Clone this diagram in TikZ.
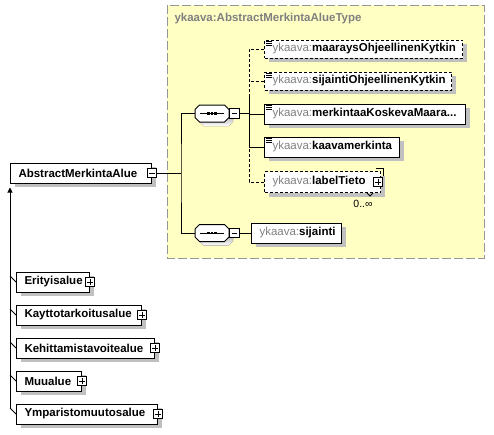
\documentclass[tikz,border=0pt]{standalone}
\usepackage{fontspec}
\setmainfont{Liberation Sans}
\usepackage{tikz}
\usetikzlibrary{calc}
\usetikzlibrary{arrows.meta,shadows,positioning}
\definecolor{prefix}{RGB}{128,128,128}
\definecolor{typebg}{RGB}{255,255,196}
\definecolor{typeline}{RGB}{150,150,150}
\definecolor{shade}{RGB}{192,192,192}
\hyphenpenalty=10000
\exhyphenpenalty=10000
\newcommand{\ykprefix}{\textcolor{prefix}{\mdseries ykaava:}}

\begin{document}
\begin{tikzpicture}[x=1pt,y=-1pt,line width=1pt,
    elfont/.style={font=\fontsize{11.5}{13}\selectfont\bfseries},
    elbox/.style={draw,fill=white,anchor=west,minimum height=20pt,inner xsep=8pt,inner ysep=0pt,
      text width=#1,align=left,elfont,
      drop shadow={shadow xshift=4pt,shadow yshift=-4pt,fill=shade,opacity=1}},
    optbox/.style={elbox=#1,dash pattern=on 3pt off 2pt},
    optline/.style={dash pattern=on 3pt off 2pt},
    minusbox/.style={draw,fill=white,minimum size=9.5pt,inner sep=0pt,
      path picture={\draw ([xshift=2pt]path picture bounding box.west) -- ([xshift=-2pt]path picture bounding box.east);}},
    plusbox/.style={draw,fill=white,minimum size=9.5pt,inner sep=0pt,
      path picture={\draw ([xshift=2pt]path picture bounding box.west) -- ([xshift=-2pt]path picture bounding box.east);
        \draw ([yshift=-2pt]path picture bounding box.north) -- ([yshift=2pt]path picture bounding box.south);}},
    seqbox/.style={minimum width=34pt,minimum height=17pt,inner sep=0pt,outer sep=0pt},
    seqpic/.pic={
      \fill[shade,shift={(4pt,-4pt)}] (-17pt,-4pt) -- (-17pt,4pt) -- (-12.5pt,8.5pt) -- (12.5pt,8.5pt)
        -- (17pt,4pt) -- (17pt,-4pt) -- (12.5pt,-8.5pt) -- (-12.5pt,-8.5pt) -- cycle;
      \draw[fill=white] (-17pt,-4pt) -- (-17pt,4pt) -- (-12.5pt,8.5pt) -- (12.5pt,8.5pt)
        -- (17pt,4pt) -- (17pt,-4pt) -- (12.5pt,-8.5pt) -- (-12.5pt,-8.5pt) -- cycle;
      \draw (-12pt,0) -- (12pt,0);
      \foreach \d in {-3.3,0,3.3}
        \fill (\d pt-1.3pt,-1.3pt) rectangle ++(2.6pt,2.6pt);
    }]
    \useasboundingbox (0,0) rectangle (494,434);

    % complex type area
    \draw[fill=typebg,draw=typeline,dash pattern=on 9pt off 3pt] (167,5) rectangle (484,258);
    \node[anchor=west,elfont,text=prefix,inner sep=0pt] (typename) at (174,19) {ykaava:AbstractMerkintaAlueType};

    \node[elbox=125pt] (main) at (10,173) {AbstractMerkintaAlue};
    \node[minusbox] (mainpm) at (main.east) {};

    \node[seqbox] (seqA) at (212,113.5) {};
    \pic at (seqA) {seqpic};
    \node[minusbox,right=0pt of seqA] (seqApm) {};
    \node[seqbox] (seqB) at (212,233) {};
    \pic at (seqB) {seqpic};
    \node[minusbox,right=0pt of seqB] (seqBpm) {};

    \node[optbox=182pt,minimum height=18pt] (maarays) at (264,49) {\ykprefix maaraysOhjeellinenKytkin};
    \node[optbox=171pt,minimum height=18pt] (sijaintiOhj) at (264,81) {\ykprefix sijaintiOhjeellinenKytkin};
    \node[elbox=185pt] (merkinta) at (264,114) {\ykprefix merkintaaKoskevaMaara...};
    \node[elbox=119pt] (kaava) at (264,147) {\ykprefix kaavamerkinta};
    \node[optbox=100pt,minimum height=21pt] (label) at (264,182) {\ykprefix labelTieto};
    \node[plusbox] (labelpm) at ([xshift=-3pt]label.east) {};
    \node[font=\fontsize{10.5}{12}\selectfont,inner sep=0pt] (labelmult) at (363,204) {0..∞};
    \draw[line width=.8pt] ([shift={(-5pt,2.5pt)}]label.north east) -| ([shift={(2.5pt,-5pt)}]label.north east);
    \draw[line width=.8pt] ([xshift=-14pt]label.south east) -- ++(3pt,-3pt) -- ++(3pt,3pt);
    \node[elbox=74pt] (sijainti) at (251,233) {\ykprefix sijainti};

    % simple content marks
    \foreach \e in {maarays,sijaintiOhj,merkinta,kaava}
      \foreach \d in {1.5,3.5,5.5}
        \draw[line width=.6pt] ([shift={(2pt,-\d pt)}]\e.north west) -- ++(6pt,0);

    % connectors
    \coordinate (forkA) at (181,173);
    \coordinate (busTop) at (249,95);
    \draw (mainpm) -- (forkA);
    \draw (seqA) -| (forkA) |- (seqB);
    \draw[optline] (maarays) -| (busTop);
    \draw[optline] (sijaintiOhj) -- (sijaintiOhj -| busTop);
    \draw (busTop) |- (kaava);
    \draw (merkinta) -- (merkinta -| busTop);
    \draw (seqApm) -- (seqApm -| busTop);
    \draw[optline] (label) -| (kaava -| busTop);
    \draw (seqBpm) -- (sijainti);

    % derived types
    \foreach \name/\y/\w in {Erityisalue/282/57,Kayttotarkoitusalue/315/109,
        Kehittamistavoitealue/348/122,Muualue/381/49,Ymparistomuutosalue/414/125}{
      \node[elbox=\w pt] (\name) at (16,\y) {\name};
      \node[plusbox] (\name-pm) at (\name.east) {};
      \draw (\name.west) -- ++(-6pt,6pt);
    }
    \draw[-{Triangle[width=5pt,length=5pt]}] ([shift={(-6pt,6pt)}]Ymparistomuutosalue.west) -- ([yshift=-4pt]main.south west);
  \end{tikzpicture}
\end{document}
